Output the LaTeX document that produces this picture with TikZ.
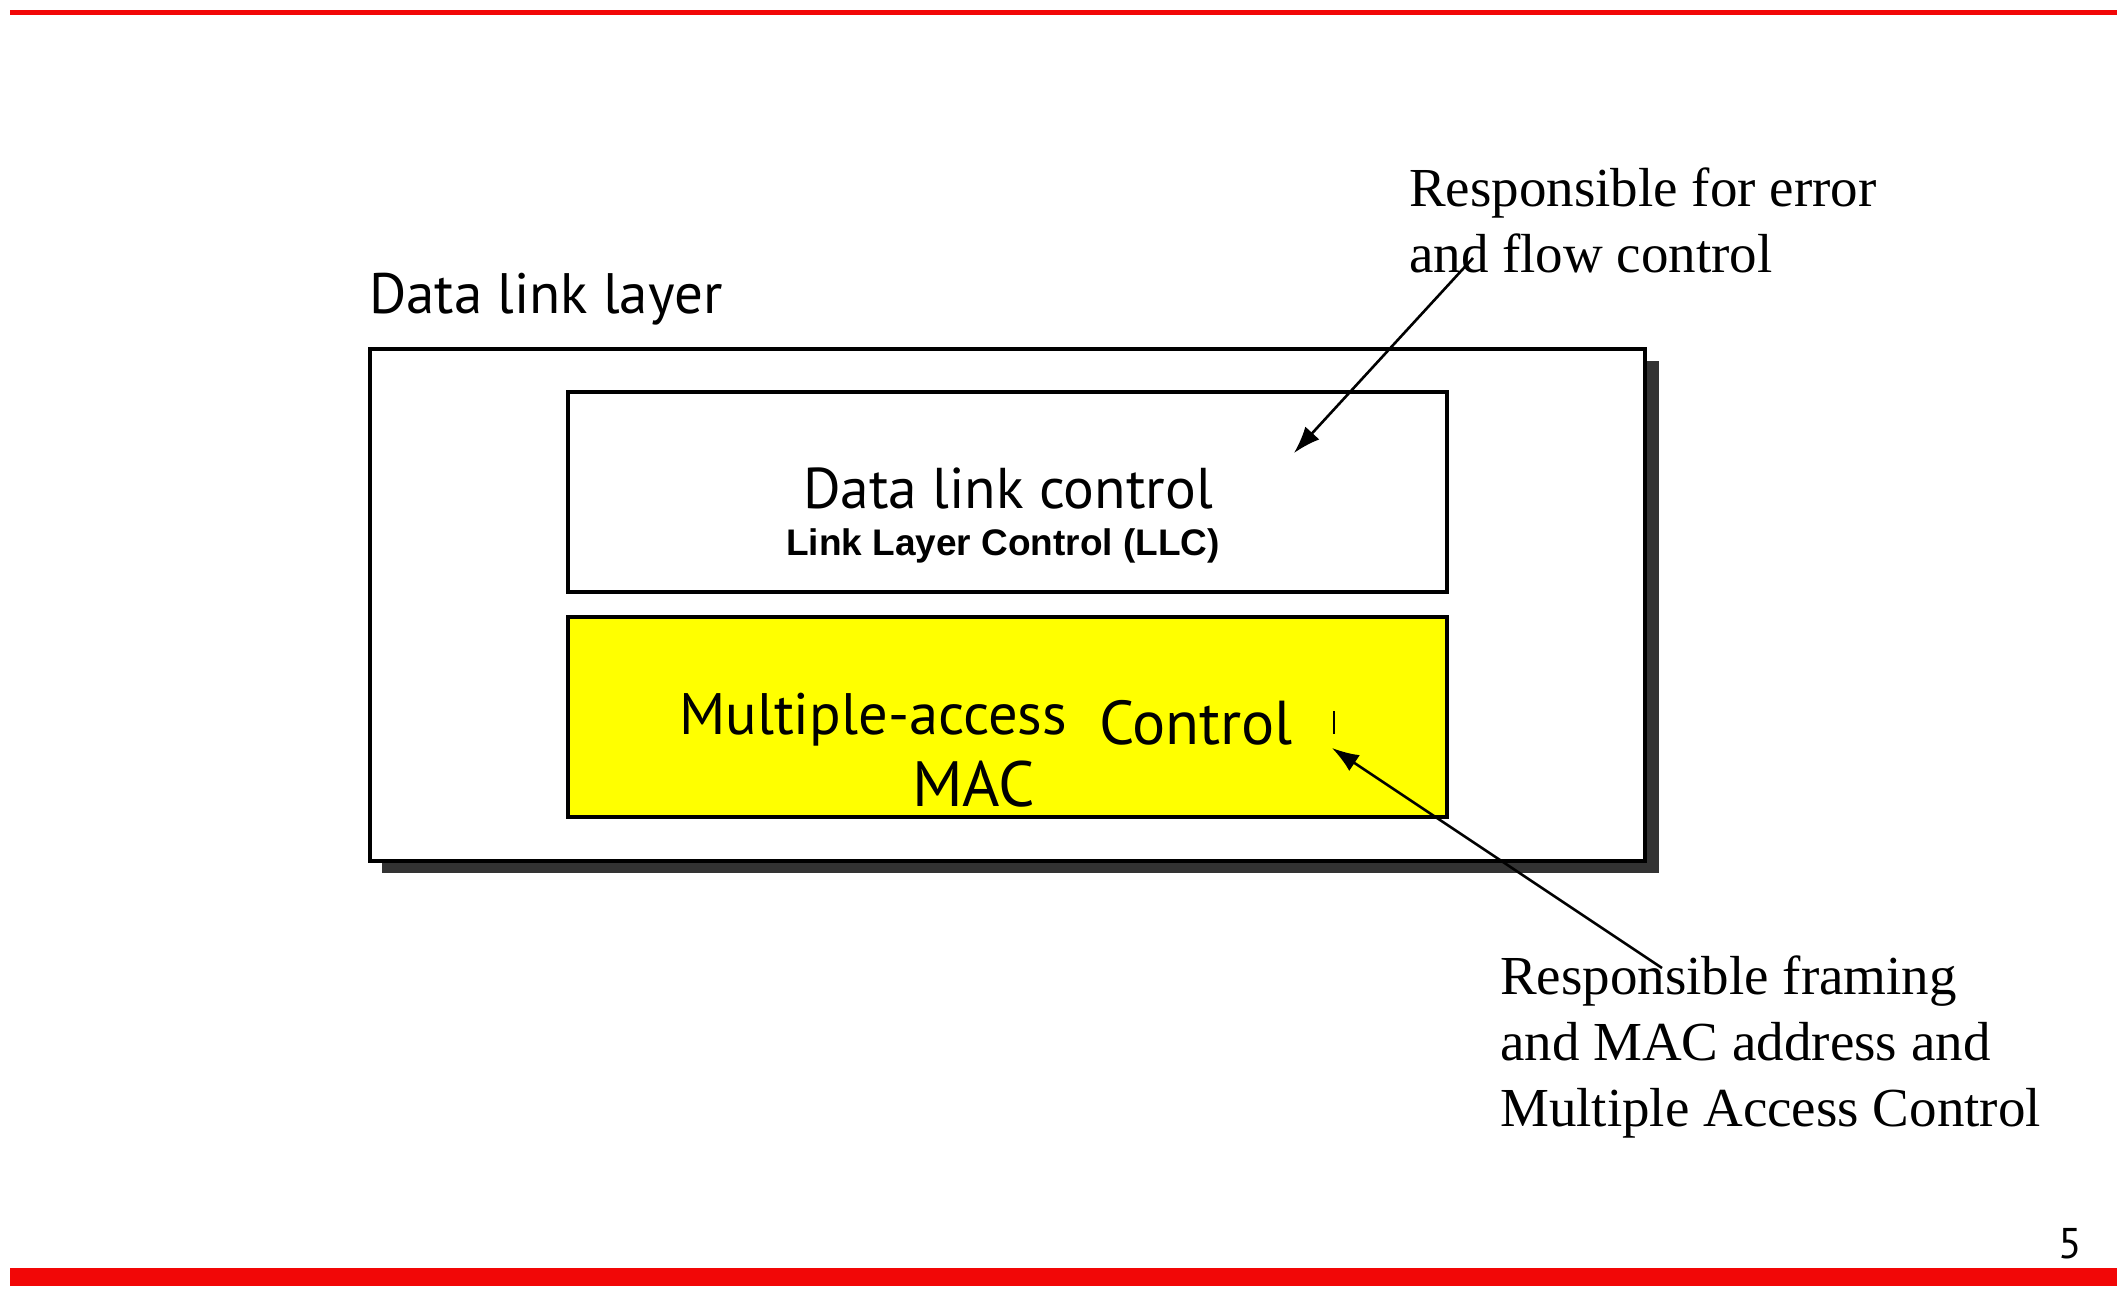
\documentclass[tikz,border=0pt]{standalone}
\usepackage{fontspec}
\setmainfont{Liberation Serif}
\setsansfont{PT Sans}
\newfontfamily\arialfont{Liberation Sans}
\usetikzlibrary{arrows.meta}
\definecolor{slidered}{HTML}{F20707}
\definecolor{shadowgray}{HTML}{333333}
\definecolor{macyellow}{HTML}{FFFF00}

\begin{document}
\begin{tikzpicture}[x=1pt,y=-1pt,
    box/.style={draw=black,line width=4.5pt},
    lbl/.style={anchor=base west,inner sep=0pt},
    note/.style={lbl,align=left,font=\fontsize{55}{66}\selectfont},
    pointer/.style={-{Latex[length=27pt,width=19pt]},line width=2.6pt}]
        \useasboundingbox (0,0) rectangle (2128,1295);
        % red rules of the slide
        \fill[slidered](10,10)rectangle(2117,15);
        \fill[slidered](10,1268)rectangle(2117,1286);
        \node[lbl,font=\sffamily\fontsize{43}{43}\selectfont](page)at(2058,1258){5};

        % outer layer with its shadow
        \fill[shadowgray](382,361)rectangle(1659,873);
        \draw[box,fill=white](370,349)rectangle(1645,861);
        \node[lbl,font=\sffamily\fontsize{57}{57}\selectfont](dll)at(369,313){Data link layer};

        % upper sublayer
        \draw[box,line width=4pt](568,392)rectangle(1447,592);
        \node[lbl,font=\sffamily\fontsize{57.5}{57}\selectfont](dlc)at(803,508){Data link control};
        \node[lbl,font=\arialfont\bfseries\fontsize{37}{37}\selectfont](llc)at(786,555){Link Layer Control (LLC)};

        % lower sublayer
        \draw[box,line width=4pt,fill=macyellow](568,617)rectangle(1447,817);
        \node[lbl,font=\sffamily\fontsize{58.5}{58}\selectfont](mac)at(679,734){Multiple-access};
        \node[lbl,font=\sffamily\fontsize{62}{62}\selectfont](ctl)at(1099,744){Control};
        \node[lbl,font=\sffamily\fontsize{64}{64}\selectfont](macab)at(912,806){MAC};
        \coordinate(bartop)at(1334,711);
        \coordinate(barbot)at(1334,734);
        \draw[line width=2pt](bartop)--(barbot);

        % notes and pointers
        \node[note](errnote)at(1409,272){Responsible for error\\and flow control};
        \node[note](macnote)at(1500,1126){Responsible framing\\and MAC address and\\Multiple Access Control};
        \coordinate(errtail)at(1473,258);
        \coordinate(errtip)at(1294,453);
        \coordinate(mactail)at(1662,968);
        \coordinate(mactip)at(1332,748);
        \draw[pointer](errtail)--(errtip);
        \draw[pointer](mactail)--(mactip);
\end{tikzpicture}
\end{document}
